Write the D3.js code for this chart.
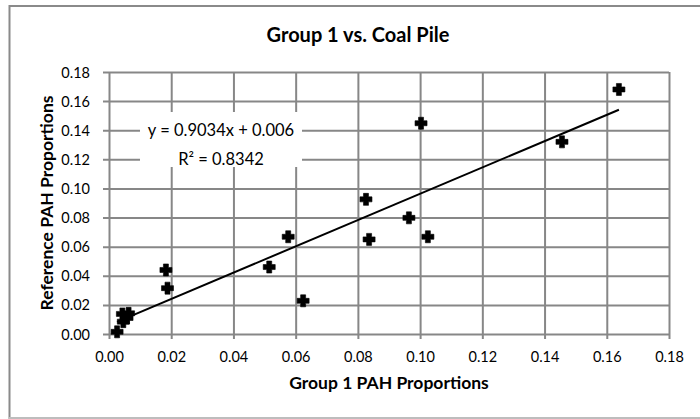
<!DOCTYPE html>
<html>
<head>
<meta charset="utf-8">
<script src="https://cdn.jsdelivr.net/npm/d3@7"></script>
<style>
  html, body { margin: 0; padding: 0; background: #fff; }
  svg { display: block; font-family: Lato, "Open Sans", sans-serif; }
</style>
</head>
<body>
<svg id="chart" width="700" height="419"></svg>
<script>
// ---- data ----
const title = "Group 1 vs. Coal Pile";
const xTitle = "Group 1 PAH Proportions";
const yTitle = "Reference PAH Proportions";
const group1 = [0.0026, 0.0043, 0.0046, 0.0058, 0.0063, 0.0183, 0.0188, 0.0515, 0.0576, 0.0624, 0.0826, 0.0836, 0.0964, 0.1025, 0.1003, 0.1456, 0.1639];
const reference = [0.0015, 0.0138, 0.0085, 0.011, 0.0142, 0.044, 0.0315, 0.046, 0.0668, 0.0228, 0.0925, 0.065, 0.0798, 0.0668, 0.1448, 0.132, 0.168];
const xTicks = [0, 0.02, 0.04, 0.06, 0.08, 0.10, 0.12, 0.14, 0.16, 0.18];
const yTicks = [0, 0.02, 0.04, 0.06, 0.08, 0.10, 0.12, 0.14, 0.16, 0.18];
const trendSlope = 0.9034;
const trendIntercept = 0.006;
const eqLines = ["y = 0.9034x + 0.006", "R² = 0.8342"];

// ---- layout ----
const svg = d3.select("#chart");
const plot = { left: 109, right: 669, top: 72, bottom: 334 };
const grid = "#878787";

// outer chart border
svg.append("rect").attr("x", 9.5).attr("y", 6).attr("width", 720).attr("height", 412)
  .attr("fill", "#fff").attr("stroke", "#8a8a8a").attr("stroke-width", 2);
svg.append("line").attr("x1", 9).attr("x2", 700).attr("y1", 418).attr("y2", 418)
  .attr("stroke", "#bdbdbd").attr("stroke-width", 2);

const x = d3.scaleLinear().domain([0, 0.18]).range([plot.left, plot.right]);
const y = d3.scaleLinear().domain([0, 0.18]).range([plot.bottom, plot.top]);

// gridlines + tick labels
const gx = svg.append("g").attr("transform", `translate(0,${plot.bottom})`)
  .call(d3.axisBottom(x).tickValues(xTicks).tickFormat(d3.format(".2f"))
    .tickSize(-(plot.bottom - plot.top)).tickSizeOuter(0).tickPadding(0));
gx.select(".domain").remove();
gx.selectAll(".tick line").attr("stroke", grid).attr("stroke-width", 2).attr("y2", -(plot.bottom - plot.top)).attr("y1", 5);
gx.selectAll(".tick text").attr("y", 28).attr("dy", 0).attr("font-size", 14.5).attr("fill", "#000")
  .attr("font-family", "Lato, sans-serif");

const gy = svg.append("g").attr("transform", `translate(${plot.left},0)`)
  .call(d3.axisLeft(y).tickValues(yTicks).tickFormat(d3.format(".2f"))
    .tickSize(-(plot.right - plot.left)).tickSizeOuter(0).tickPadding(0));
gy.select(".domain").remove();
gy.selectAll(".tick line").attr("stroke", grid).attr("stroke-width", 2).attr("x1", -6);
gy.selectAll(".tick text").attr("x", -19).attr("dy", "0.35em").attr("font-size", 14.5).attr("fill", "#000")
  .attr("font-family", "Lato, sans-serif");

// equation label background
const eqX = 221;
svg.append("rect").attr("x", 140).attr("y", 112).attr("width", 162).attr("height", 55).attr("fill", "#fff");

// trendline
const xMin = d3.min(group1), xMax = d3.max(group1);
svg.append("line")
  .attr("x1", x(xMin)).attr("y1", y(trendSlope * xMin + trendIntercept))
  .attr("x2", x(xMax)).attr("y2", y(trendSlope * xMax + trendIntercept))
  .attr("stroke", "#000").attr("stroke-width", 2);

// markers (bold plus)
const plus = "M-2.5,-6 H2.5 V-2.5 H6 V2.5 H2.5 V6 H-2.5 V2.5 H-6 V-2.5 H-2.5 Z";
svg.append("g").selectAll("path").data(group1.map((v, i) => [v, reference[i]]))
  .join("path")
  .attr("d", plus)
  .attr("transform", d => `translate(${x(d[0])},${y(d[1])})`)
  .attr("fill", "#000")
  .attr("stroke", "#000").attr("stroke-width", 0.6).attr("stroke-linejoin", "round");

// equation text
svg.append("g").selectAll("text").data(eqLines).join("text")
  .attr("x", eqX).attr("y", (d, i) => 136 + i * 29)
  .attr("text-anchor", "middle").attr("font-size", 16.5).attr("fill", "#000")
  .text(d => d);

// titles
svg.append("text").attr("x", 358).attr("y", 42).attr("text-anchor", "middle")
  .attr("font-size", 20).attr("font-weight", "bold").text(title);
svg.append("text").attr("x", (plot.left + plot.right) / 2).attr("y", 389).attr("text-anchor", "middle")
  .attr("font-size", 17.5).attr("font-weight", "bold").text(xTitle);
svg.append("text").attr("transform", `translate(53,${(plot.top + plot.bottom) / 2}) rotate(-90)`)
  .attr("text-anchor", "middle").attr("font-size", 17.5).attr("font-weight", "bold").text(yTitle);
</script>
</body>
</html>
